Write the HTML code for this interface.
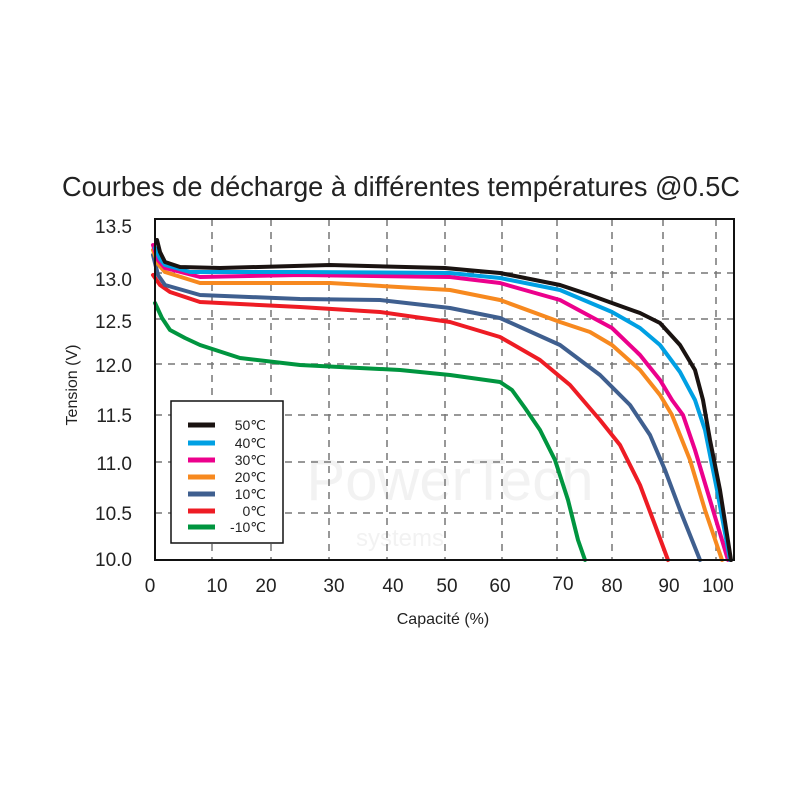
<!DOCTYPE html>
<html><head><meta charset="utf-8"><style>
body{margin:0;background:#fff;}
svg{display:block;font-family:"Liberation Sans",sans-serif;}
</style></head><body>
<svg width="800" height="800" viewBox="0 0 800 800">
<rect width="800" height="800" fill="#fff"/>
<text x="62" y="196" font-size="28" fill="#222" textLength="678" lengthAdjust="spacingAndGlyphs">Courbes de décharge à différentes températures @0.5C</text>
<text x="450" y="500" font-size="58" text-anchor="middle" fill="#f2f2f2">PowerTech</text>
<text x="400" y="546" font-size="24" text-anchor="middle" fill="#f2f2f2">systems</text>
<g stroke="#777" stroke-width="1.5" stroke-dasharray="7,6" fill="none">
<line x1="212" y1="219" x2="212" y2="560"/><line x1="271" y1="219" x2="271" y2="560"/>
<line x1="329" y1="219" x2="329" y2="560"/><line x1="387" y1="219" x2="387" y2="560"/>
<line x1="445" y1="219" x2="445" y2="560"/><line x1="502" y1="219" x2="502" y2="560"/>
<line x1="557" y1="219" x2="557" y2="560"/><line x1="612" y1="219" x2="612" y2="560"/>
<line x1="663" y1="219" x2="663" y2="560"/><line x1="716" y1="219" x2="716" y2="560"/>
<line x1="155" y1="273" x2="734" y2="273"/><line x1="155" y1="319" x2="734" y2="319"/>
<line x1="155" y1="364" x2="734" y2="364"/><line x1="155" y1="415" x2="734" y2="415"/>
<line x1="155" y1="462" x2="734" y2="462"/><line x1="155" y1="513" x2="734" y2="513"/>
</g>
<g fill="none" stroke-width="4" stroke-linejoin="round" stroke-linecap="round">
<polyline stroke="#00953f" points="155,303 162,318 170,330 185,338 200,345 240,358 300,365 400,370 450,375 500,382 512,390 525,408 540,430 555,460 568,500 578,540 585,560"/>
<polyline stroke="#ee1c24" points="153,275 160,285 170,292 200,302 300,307 380,312 450,322 500,337 540,360 570,385 600,420 620,445 640,485 655,525 668,560"/>
<polyline stroke="#3f5f8f" points="153,255 158,275 165,285 200,295 300,299 380,300 450,308 500,318 560,345 600,375 630,405 650,435 665,470 680,510 700,560"/>
<polyline stroke="#f7891f" points="153,250 158,264 165,272 200,283 330,283 450,290 500,300 560,322 590,332 612,345 640,370 660,395 672,415 690,460 705,510 722,560"/>
<polyline stroke="#ec008c" points="153,245 158,260 165,268 200,277 300,275 450,277 500,283 560,300 612,328 640,355 660,380 672,400 683,415 695,450 710,500 728,560"/>
<polyline stroke="#00a0e3" points="155,248 160,259 165,265 190,272 300,272 450,273 500,278 560,290 612,312 640,328 660,345 680,372 695,400 705,430 717,490 730,560"/>
<polyline stroke="#1a1311" points="157,240 160,252 165,262 180,267 220,268 330,265 445,268 500,273 560,285 590,295 612,303 640,313 660,323 680,345 695,370 703,400 710,440 720,490 731,560"/>
</g>
<rect x="155" y="219" width="579" height="341" fill="none" stroke="#111" stroke-width="2"/>
<rect x="171" y="401" width="112" height="142" fill="#fff" stroke="#111" stroke-width="1.5"/>
<g stroke-width="5">
<line x1="188" y1="425" x2="215" y2="425" stroke="#1a1311"/>
<line x1="188" y1="443" x2="215" y2="443" stroke="#00a0e3"/>
<line x1="188" y1="460" x2="215" y2="460" stroke="#ec008c"/>
<line x1="188" y1="477" x2="215" y2="477" stroke="#f7891f"/>
<line x1="188" y1="494" x2="215" y2="494" stroke="#3f5f8f"/>
<line x1="188" y1="511" x2="215" y2="511" stroke="#ee1c24"/>
<line x1="188" y1="527" x2="215" y2="527" stroke="#00953f"/>
</g>
<g font-size="14" fill="#222" text-anchor="end">
<text x="266" y="430">50℃</text><text x="266" y="448">40℃</text><text x="266" y="465">30℃</text>
<text x="266" y="482">20℃</text><text x="266" y="499">10℃</text><text x="266" y="516">0℃</text><text x="266" y="532">-10℃</text>
</g>
<g font-size="19" fill="#222" text-anchor="end">
<text x="132" y="233">13.5</text><text x="132" y="286">13.0</text><text x="132" y="328">12.5</text>
<text x="132" y="372">12.0</text><text x="132" y="422">11.5</text><text x="132" y="470">11.0</text>
<text x="132" y="520">10.5</text><text x="132" y="566">10.0</text>
</g>
<g font-size="19" fill="#222" text-anchor="middle">
<text x="150" y="592">0</text><text x="217" y="592">10</text><text x="266" y="592">20</text>
<text x="334" y="592">30</text><text x="393" y="592">40</text><text x="447" y="592">50</text>
<text x="500" y="592">60</text><text x="563" y="590">70</text><text x="612" y="592">80</text>
<text x="669" y="592">90</text><text x="718" y="592">100</text>
</g>
<text x="443" y="624" font-size="16" text-anchor="middle" fill="#222">Capacité (%)</text>
<text transform="translate(77,385) rotate(-90)" font-size="16" text-anchor="middle" fill="#222">Tension (V)</text>
</svg>
</body></html>
